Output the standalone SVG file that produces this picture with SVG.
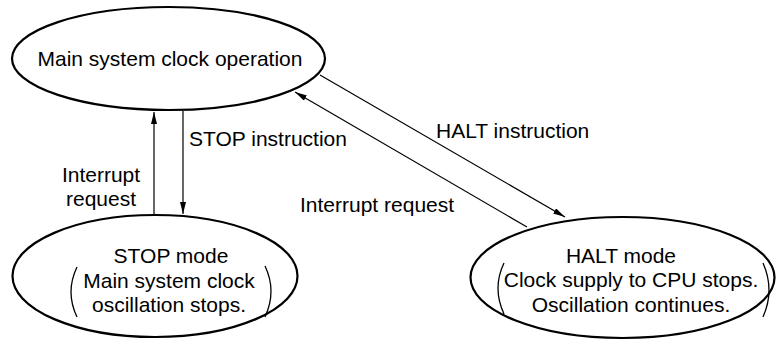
<svg xmlns="http://www.w3.org/2000/svg" width="776" height="345" viewBox="0 0 776 345">
  <style>
    .node { fill: #fff; stroke: #000; stroke-width: 2.2; }
    .lbl { font-family: "Liberation Sans", Arial, sans-serif; font-size: 21px; fill: #000; }
    .mid { text-anchor: middle; }
    .edge { stroke: #000; stroke-width: 1.2; fill: none; }
    .paren { stroke: #000; stroke-width: 1.3; fill: none; }
  </style>
  <defs>
    <marker id="arrow" viewBox="0 0 12 6" refX="12" refY="3" markerWidth="12" markerHeight="6" markerUnits="userSpaceOnUse" orient="auto">
      <path d="M0,0 L12,3 L0,6 Z" fill="#000"/>
    </marker>
  </defs>
  <rect width="776" height="345" fill="#fff"/>

  <!-- transitions between operating modes -->
  <g id="connectors">
    <line class="edge" x1="154" y1="214" x2="154" y2="112" marker-end="url(#arrow)"/>
    <line class="edge" x1="183" y1="111" x2="183" y2="214" marker-end="url(#arrow)"/>
    <line class="edge" x1="320" y1="75" x2="565" y2="217" marker-end="url(#arrow)"/>
    <line class="edge" x1="527" y1="227" x2="295" y2="92" marker-end="url(#arrow)"/>
    <text class="lbl" x="189" y="146">STOP instruction</text>
    <text class="lbl mid" x="101" y="182">Interrupt</text>
    <text class="lbl mid" x="101" y="206">request</text>
    <text class="lbl" x="436" y="138">HALT instruction</text>
    <text class="lbl" x="300" y="212">Interrupt request</text>
  </g>

  <g id="main-clock">
    <ellipse class="node" cx="168.5" cy="58.5" rx="156.5" ry="51.5"/>
    <text class="lbl mid" x="170" y="66">Main system clock operation</text>
  </g>

  <g id="stop-mode">
    <ellipse class="node" cx="155" cy="276" rx="142.5" ry="61"/>
    <text class="lbl mid" x="171" y="263">STOP mode</text>
    <text class="lbl mid" x="169" y="288">Main system clock</text>
    <text class="lbl mid" x="169" y="312">oscillation stops.</text>
    <path class="paren" d="M77,267 Q65,292 77,317"/>
    <path class="paren" d="M265,266 Q277,291 265,317"/>
  </g>

  <g id="halt-mode">
    <ellipse class="node" cx="622.5" cy="277.5" rx="152" ry="60.5"/>
    <text class="lbl mid" x="621" y="263">HALT mode</text>
    <text class="lbl mid" x="631" y="287">Clock supply to CPU stops.</text>
    <text class="lbl mid" x="631" y="312">Oscillation continues.</text>
    <path class="paren" d="M504,263 Q492,288 504,314"/>
    <path class="paren" d="M763,263 Q775,290 763,317"/>
  </g>
</svg>
